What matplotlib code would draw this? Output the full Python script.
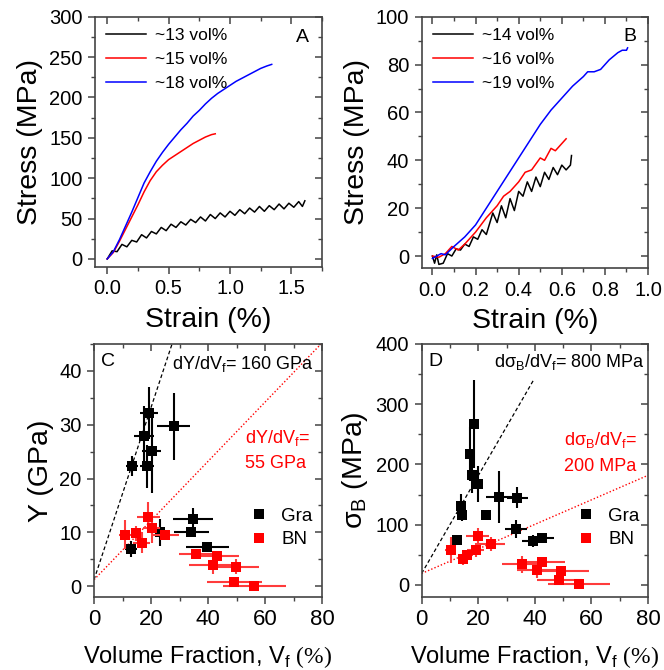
import numpy as np
import matplotlib
matplotlib.use('Agg')
import matplotlib.pyplot as plt
from matplotlib.ticker import MultipleLocator
from matplotlib.lines import Line2D

plt.rcParams['font.family'] = ['Liberation Sans', 'DejaVu Sans']
plt.rcParams['mathtext.fontset'] = 'custom'
plt.rcParams['mathtext.rm'] = 'Liberation Serif'

# ---- panel A: stress-strain, graphene composites
a13_x = [0, 0.04, 0.08, 0.12, 0.16, 0.20, 0.24, 0.28, 0.32, 0.36, 0.40, 0.44, 0.48, 0.52,
         0.56, 0.60, 0.64, 0.68, 0.72, 0.76, 0.80, 0.84, 0.88, 0.92, 0.96, 1.00, 1.04, 1.08,
         1.12, 1.16, 1.20, 1.24, 1.28, 1.32, 1.36, 1.40, 1.44, 1.48, 1.52, 1.56, 1.59, 1.61]
a13_y = [0, 10, 9, 18, 15, 23, 21, 30, 26, 34, 31, 39, 35, 43, 39, 46, 42, 49, 45, 52, 47,
         55, 50, 57, 52, 59, 54, 61, 56, 63, 58, 65, 59, 66, 61, 68, 62, 69, 64, 71, 65, 72]
a15_x = [0, 0.05, 0.1, 0.15, 0.2, 0.25, 0.3, 0.35, 0.4, 0.45, 0.5, 0.55, 0.6, 0.65, 0.7,
         0.75, 0.8, 0.85, 0.88]
a15_y = [0, 8, 22, 37, 52, 67, 83, 97, 108, 116, 123, 128, 133, 138, 143, 147, 151, 154, 155]
a18_x = [0, 0.05, 0.1, 0.15, 0.2, 0.25, 0.3, 0.35, 0.4, 0.45, 0.5, 0.55, 0.6, 0.65, 0.7,
         0.75, 0.8, 0.85, 0.9, 0.95, 1.0, 1.05, 1.1, 1.15, 1.2, 1.25, 1.3, 1.34]
a18_y = [0, 9, 24, 41, 58, 76, 94, 108, 121, 132, 142, 151, 160, 168, 177, 184, 192, 199,
         205, 210, 215, 220, 224, 228, 232, 236, 239, 241]

# ---- panel B: stress-strain, BN composites
b14_x = [0, 0.01, 0.02, 0.03, 0.05, 0.07, 0.09, 0.11, 0.13, 0.15, 0.17, 0.19, 0.21, 0.23,
         0.25, 0.26, 0.28, 0.30, 0.32, 0.34, 0.36, 0.38, 0.40, 0.42, 0.44, 0.46, 0.48,
         0.50, 0.52, 0.54, 0.56, 0.58, 0.60, 0.62, 0.64, 0.645]
b14_y = [0, -3, 0.5, -3.5, -3, 1, 0, 3, 2.5, 5, 4, 8, 7, 11, 9, 12, 18, 14, 21, 16, 24,
         19, 27, 25, 31, 27, 33, 29, 35, 32, 37, 34, 38, 36, 38, 42]
b16_x = [0, 0.03, 0.06, 0.09, 0.12, 0.15, 0.2, 0.25, 0.3, 0.33, 0.36, 0.4, 0.43, 0.46,
         0.5, 0.52, 0.55, 0.57, 0.6, 0.62]
b16_y = [0, -0.5, 1, 4, 2.5, 5, 10, 16, 21, 25, 27, 31, 35, 36, 41, 40, 45, 44, 47, 49]
b19_x = [0, 0.02, 0.04, 0.06, 0.1, 0.15, 0.2, 0.25, 0.3, 0.35, 0.4, 0.45, 0.5, 0.55, 0.6,
         0.65, 0.7, 0.72, 0.75, 0.78, 0.82, 0.86, 0.88, 0.9, 0.905]
b19_y = [-1, 0, 1, 0.5, 4, 8, 13, 20, 27, 34, 41, 48, 55, 61, 66, 71, 75, 77, 77, 78, 82,
         85, 86, 86, 87]

# ---- panel C: modulus vs volume fraction
c_gra_x = [13.4, 18.7, 17.5, 19.3, 20.2, 27.9, 34.7, 34.1, 39.8, 13.0, 23.1]
c_gra_y = [22.3, 22.3, 27.9, 32.2, 25.2, 29.7, 12.5, 10.0, 7.2, 6.9, 10.0]
c_gra_xe = [2.2, 2.5, 3.5, 3.0, 3.3, 5.7, 6.9, 6.1, 7.7, 2.0, 3.5]
c_gra_ye = [1.9, 4.0, 5.5, 4.8, 7.8, 6.2, 2.0, 0.8, 0.7, 1.5, 2.5]
c_bn_x = [10.8, 14.9, 19.1, 20.2, 16.7, 25.0, 35.9, 43.3, 41.8, 49.8, 49.2, 56.3]
c_bn_y = [9.6, 9.8, 12.9, 10.8, 8.1, 9.6, 5.9, 5.6, 3.9, 3.6, 0.8, 0.0]
c_bn_xe = [2.0, 2.0, 4.0, 3.0, 3.0, 4.7, 6.0, 7.4, 8.6, 8.2, 9.6, 11.0]
c_bn_ye = [2.7, 1.4, 2.8, 2.8, 2.0, 0.5, 0.5, 1.0, 1.6, 1.4, 1.0, 0.5]
c_fit_gra = ([0, 30], [1.2, 49.2])
c_fit_bn = ([0, 80], [1.2, 45.2])

# ---- panel D: strength vs volume fraction
d_gra_x = [12.6, 13.8, 14.4, 17.1, 18.5, 17.9, 20.0, 22.6, 27.4, 33.8, 33.3, 39.4, 42.4]
d_gra_y = [75, 131, 116, 218, 267, 182, 168, 116, 146, 145, 93, 73, 78]
d_gra_xe = [1.0, 1.0, 1.0, 1.0, 1.0, 1.0, 1.5, 1.5, 4.5, 3.8, 4.0, 4.0, 4.2]
d_gra_ye = [5, 20, 10, 45, 73, 30, 30, 8, 43, 18, 15, 10, 8]
d_bn_x = [10.2, 14.7, 16.1, 19.2, 19.8, 24.4, 35.3, 42.7, 40.8, 49.2, 48.6, 55.6]
d_bn_y = [58, 43, 49, 58, 82, 68, 34, 38, 24, 23, 9, 1]
d_bn_xe = [2.0, 2.0, 2.0, 3.0, 4.0, 5.0, 7.0, 8.0, 7.0, 10.0, 8.0, 11.0]
d_bn_ye = [21, 10, 8, 12, 12, 11, 14, 8, 12, 6, 6, 3]
d_fit_gra = ([0, 39.4], [19, 339])
d_fit_bn = ([0, 80], [19, 182])

FRAME = '#444444'
RED = '#ff0000'


def style_axes(ax, xmaj, xmin, ymaj, ymin, xlabsize=14.5):
    for s in ax.spines.values():
        s.set_color(FRAME)
        s.set_linewidth(1.2)
    ax.xaxis.set_major_locator(MultipleLocator(xmaj))
    ax.xaxis.set_minor_locator(MultipleLocator(xmin))
    ax.yaxis.set_major_locator(MultipleLocator(ymaj))
    ax.yaxis.set_minor_locator(MultipleLocator(ymin))
    ax.tick_params(which='major', direction='out', length=5, width=1.1, color=FRAME,
                   labelsize=14.5, pad=4)
    ax.tick_params(axis='x', labelsize=xlabsize)
    ax.tick_params(which='minor', direction='out', length=3, width=1.0, color=FRAME)
    # mirrored ticks pointing inward
    top = ax.secondary_xaxis('top')
    right = ax.secondary_yaxis('right')
    top.xaxis.set_major_locator(MultipleLocator(xmaj))
    top.xaxis.set_minor_locator(MultipleLocator(xmin))
    right.yaxis.set_major_locator(MultipleLocator(ymaj))
    right.yaxis.set_minor_locator(MultipleLocator(ymin))
    for sec in (top, right):
        sec.tick_params(which='major', direction='in', length=5, width=1.1, color=FRAME)
        sec.tick_params(which='minor', direction='in', length=3, width=1.0, color=FRAME)
        for s in sec.spines.values():
            s.set_visible(False)
    top.tick_params(labeltop=False)
    right.tick_params(labelright=False)


fig = plt.figure(figsize=(6.64, 6.70), dpi=100)
axA = fig.add_axes([0.143, 0.6015, 0.342, 0.3735])
axB = fig.add_axes([0.635, 0.600, 0.341, 0.375])
axC = fig.add_axes([0.1416, 0.109, 0.3434, 0.3776])
axD = fig.add_axes([0.635, 0.109, 0.341, 0.3776])

leg_kw = dict(loc='upper left', frameon=False, fontsize=12.5, handlelength=2.3,
              handletextpad=0.5, labelspacing=0.5, borderaxespad=0.25)

# A
axA.plot(a13_x, a13_y, color='k', lw=1.1, label='~13 vol%')
axA.plot(a15_x, a15_y, color=RED, lw=1.1, label='~15 vol%')
axA.plot(a18_x, a18_y, color='#0000ff', lw=1.1, label='~18 vol%')
axA.set_xlim(-0.1, 1.75)
axA.set_ylim(-10, 300)
style_axes(axA, 0.5, 0.25, 50, 25)
axA.set_xlabel('Strain (%)', fontsize=20.5, labelpad=6)
axA.set_ylabel('Stress (MPa)', fontsize=20.5, labelpad=4)
axA.legend(**leg_kw)
axA.text(0.912, 0.916, 'A', transform=axA.transAxes, fontsize=14, ha='center', va='center')

# B
axB.plot(b14_x, b14_y, color='k', lw=1.1, label='~14 vol%')
axB.plot(b16_x, b16_y, color=RED, lw=1.1, label='~16 vol%')
axB.plot(b19_x, b19_y, color='#0000ff', lw=1.1, label='~19 vol%')
axB.set_xlim(-0.05, 1.0)
axB.set_ylim(-5, 100)
style_axes(axB, 0.2, 0.1, 20, 10)
axB.set_xlabel('Strain (%)', fontsize=20.5, labelpad=6)
axB.set_ylabel('Stress (MPa)', fontsize=20.5, labelpad=4)
axB.legend(**leg_kw)
axB.text(0.92, 0.92, 'B', transform=axB.transAxes, fontsize=14, ha='center', va='center')

eb = dict(fmt='s', ms=7.5, elinewidth=1.5, capsize=2.5, capthick=1.5, mew=0)


def scatter_panel(ax, gx, gy, gxe, gye, bx, by, bxe, bye):
    ax.errorbar(bx, by, xerr=bxe, yerr=bye, color=RED, ecolor='#ff3b3b', zorder=3, **eb)
    ax.errorbar(gx, gy, xerr=gxe, yerr=gye, color='k', ecolor='k', zorder=2, **eb)
    handles = [Line2D([], [], ls='none', marker='s', ms=7.5, mew=0, color='k'),
               Line2D([], [], ls='none', marker='s', ms=7.5, mew=0, color=RED)]
    ax.legend(handles, ['Gra', 'BN'], loc='upper left', bbox_to_anchor=(0.6, 0.42),
              frameon=False, fontsize=13.5, handletextpad=0.6, labelspacing=0.35,
              handlelength=1.2)


xlab = r'Volume Fraction, V$_\mathregular{f}$ $\mathrm{(\%)}$'

# C
scatter_panel(axC, c_gra_x, c_gra_y, c_gra_xe, c_gra_ye, c_bn_x, c_bn_y, c_bn_xe, c_bn_ye)
axC.plot(*c_fit_gra, color='k', ls=(0, (3, 2)), lw=0.9, zorder=1)
axC.plot(*c_fit_bn, color=RED, ls=(0, (1, 1.5)), lw=1.0, zorder=1)
axC.set_xlim(0, 80)
axC.set_ylim(-2, 45)
style_axes(axC, 20, 10, 10, 5, xlabsize=16)
axC.set_xlabel(xlab, fontsize=17, labelpad=10)
axC.set_ylabel('Y (GPa)', fontsize=20.5, labelpad=4)
axC.text(0.062, 0.93, 'C', transform=axC.transAxes, fontsize=14, ha='center', va='center')
axC.text(27.5, 41.3, r'dY/dV$_\mathregular{f}$= 160 GPa', fontsize=13, va='center')
axC.text(53, 27.5, r'dY/dV$_\mathregular{f}$=', fontsize=13, color=RED, va='center')
axC.text(53, 22.8, '55 GPa', fontsize=13, color=RED, va='center')

# D
scatter_panel(axD, d_gra_x, d_gra_y, d_gra_xe, d_gra_ye, d_bn_x, d_bn_y, d_bn_xe, d_bn_ye)
axD.plot(*d_fit_gra, color='k', ls=(0, (3, 2)), lw=0.9, zorder=1)
axD.plot(*d_fit_bn, color=RED, ls=(0, (1, 1.5)), lw=1.0, zorder=1)
axD.set_xlim(0, 80)
axD.set_ylim(-20, 400)
style_axes(axD, 20, 10, 100, 50, xlabsize=16)
axD.set_xlabel(xlab, fontsize=17, labelpad=10)
axD.set_ylabel(r'σ$_\mathregular{B}$ (MPa)', fontsize=20.5, labelpad=4)
axD.text(0.059, 0.93, 'D', transform=axD.transAxes, fontsize=14, ha='center', va='center')
axD.text(25.5, 370, r'dσ$_\mathregular{B}$/dV$_\mathregular{f}$= 800 MPa', fontsize=13,
         va='center')
axD.text(50.2, 240, r'dσ$_\mathregular{B}$/dV$_\mathregular{f}$=', fontsize=13,
         color=RED, va='center')
axD.text(50.2, 196, '200 MPa', fontsize=13, color=RED, va='center')

fig.savefig('out.png', dpi=100)
